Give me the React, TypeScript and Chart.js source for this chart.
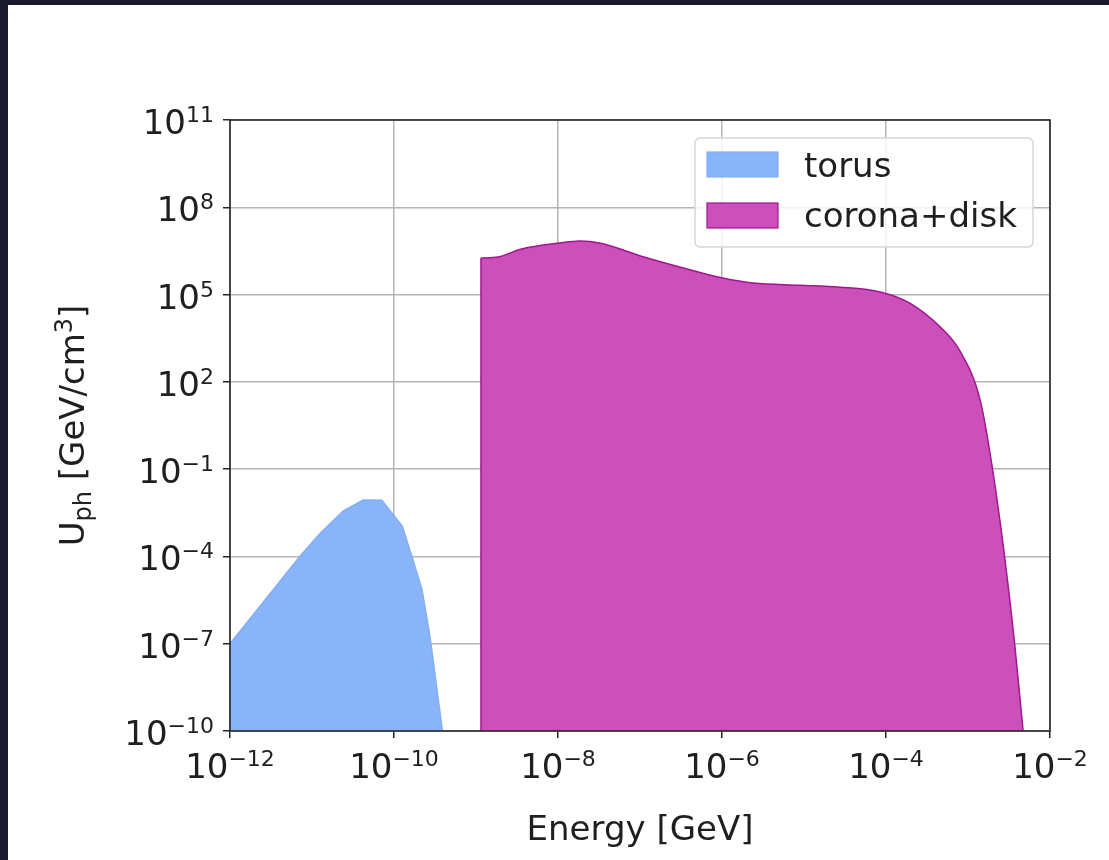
import React, { useEffect, useRef } from "react";
import { Chart, registerables } from "chart.js";

Chart.register(...registerables);

// ---- data ----
const xTickValues = [1e-12, 1e-10, 1e-8, 1e-6, 1e-4, 1e-2];
const yTickValues = [1e-10, 1e-7, 1e-4, 1e-1, 1e2, 1e5, 1e8, 1e11];

const torusEnergy = [1e-12, 2.5e-12, 7.1e-12, 1.26e-11, 2.4e-11, 4.2e-11, 7.1e-11, 1.26e-10, 1.66e-10, 2.2e-10, 2.75e-10, 3.9e-10];
const torusU = [1e-7, 2.5e-6, 1e-4, 6.3e-4, 3.6e-3, 8.7e-3, 8.5e-3, 1.1e-3, 9.5e-5, 7e-6, 1.7e-7, 1e-10];

const coronaEnergy = [
  1.15e-9, 1.86e-9, 3.5e-9, 1.05e-8, 1.86e-8, 3.2e-8, 1.23e-7, 5.4e-7, 1.02e-6,
  2.4e-6, 8.9e-6, 2.75e-5, 8.5e-5, 1.95e-4, 4.6e-4, 7.9e-4, 1.41e-3, 2.0e-3, 2.8e-3, 3.7e-3, 4.7e-3,
];
const coronaU = [
  1.8e6, 1.95e6, 3.6e6, 5.9e6, 6.9e6, 5.9e6, 1.8e6, 5.75e5, 3.7e5,
  2.5e5, 2.1e5, 1.8e5, 1.23e5, 5.1e4, 7.6e3, 1.2e3, 23, 0.093, 9.5e-5, 1.05e-7, 1e-10,
];

const seriesLabels = ["torus", "corona+disk"];
const xAxisTitle = "Energy [GeV]";

const FONT = '"DejaVu Sans", sans-serif';
const TEXT = "#1f1f1f";
const BLUE_FILL = "#8ab4f8";
const BLUE_EDGE = "#82aef5";
const MAG_FILL = "#cb50ba";
const MAG_EDGE = "#a0178f";

function drawPower(ctx: CanvasRenderingContext2D, exp: number, x: number, y: number, align: "center" | "right") {
  const base = "10";
  const e = (exp < 0 ? "\u2212" : "") + String(Math.abs(exp));
  ctx.font = `34px ${FONT}`;
  const wb = ctx.measureText(base).width;
  ctx.font = `22px ${FONT}`;
  const we = ctx.measureText(e).width;
  const total = wb + we;
  const start = align === "center" ? x - total / 2 : x - total;
  ctx.textAlign = "left";
  ctx.textBaseline = "alphabetic";
  ctx.fillStyle = TEXT;
  ctx.font = `34px ${FONT}`;
  ctx.fillText(base, start, y);
  ctx.font = `22px ${FONT}`;
  ctx.fillText(e, start + wb, y - 12);
}

const decorPlugin = {
  id: "decor",
  afterDraw(chart: any) {
    const ctx: CanvasRenderingContext2D = chart.ctx;
    const { left, right, top, bottom } = chart.chartArea;
    const xs = chart.scales.x;
    const ys = chart.scales.y;
    ctx.save();
    // left edge of the corona+disk fill
    const meta = chart.getDatasetMeta(1);
    if (meta && meta.data && meta.data.length) {
      const p0 = meta.data[0];
      ctx.strokeStyle = MAG_EDGE;
      ctx.lineWidth = 1.5;
      ctx.beginPath();
      ctx.moveTo(p0.x, bottom);
      ctx.lineTo(p0.x, p0.y);
      ctx.stroke();
    }
    // spines
    ctx.strokeStyle = "#262626";
    ctx.lineWidth = 1.6;
    ctx.strokeRect(left, top, right - left, bottom - top);

    // tick labels
    xTickValues.forEach((v) => {
      const px = xs.getPixelForValue(v);
      drawPower(ctx, Math.round(Math.log10(v)), px, 778, "center");
    });
    yTickValues.forEach((v) => {
      const py = ys.getPixelForValue(v);
      drawPower(ctx, Math.round(Math.log10(v)), 214, py + 14, "right");
    });

    // x axis title
    ctx.font = `34px ${FONT}`;
    ctx.fillStyle = TEXT;
    ctx.textAlign = "center";
    ctx.fillText(xAxisTitle, (left + right) / 2, 840);

    // y axis title: U_ph [GeV/cm^3]
    const parts: [string, number, number][] = [
      ["U", 34, 0],
      ["ph", 24, 7],
      [" [GeV/cm", 34, 0],
      ["3", 24, -12],
      ["]", 34, 0],
    ];
    let total = 0;
    parts.forEach(([t, s]) => {
      ctx.font = `${s}px ${FONT}`;
      total += ctx.measureText(t).width;
    });
    ctx.save();
    ctx.translate(84, (top + bottom) / 2);
    ctx.rotate(-Math.PI / 2);
    ctx.textAlign = "left";
    let cx = -total / 2;
    parts.forEach(([t, s, dy]) => {
      ctx.font = `${s}px ${FONT}`;
      ctx.fillText(t, cx, dy);
      cx += ctx.measureText(t).width;
    });
    ctx.restore();

    // legend
    const lx = 695, ly = 138, lw = 338, lh = 109, r = 5;
    ctx.beginPath();
    ctx.moveTo(lx + r, ly);
    ctx.arcTo(lx + lw, ly, lx + lw, ly + lh, r);
    ctx.arcTo(lx + lw, ly + lh, lx, ly + lh, r);
    ctx.arcTo(lx, ly + lh, lx, ly, r);
    ctx.arcTo(lx, ly, lx + lw, ly, r);
    ctx.closePath();
    ctx.fillStyle = "rgba(255,255,255,0.82)";
    ctx.fill();
    ctx.strokeStyle = "#d6d6d6";
    ctx.lineWidth = 1.5;
    ctx.stroke();

    const sw = [
      { y: 152, fill: BLUE_FILL, edge: BLUE_EDGE, label: chart.data.datasets[0].label, base: 177 },
      { y: 203, fill: MAG_FILL, edge: MAG_EDGE, label: chart.data.datasets[1].label, base: 227 },
    ];
    sw.forEach((s) => {
      ctx.fillStyle = s.fill;
      ctx.fillRect(707, s.y, 71, 25);
      ctx.strokeStyle = s.edge;
      ctx.lineWidth = 1.2;
      ctx.strokeRect(707, s.y, 71, 25);
      ctx.font = `34px ${FONT}`;
      ctx.fillStyle = TEXT;
      ctx.textAlign = "left";
      ctx.fillText(s.label, 804, s.base);
    });
    ctx.restore();
  },
};

export default function App() {
  const canvasRef = useRef<HTMLCanvasElement | null>(null);

  useEffect(() => {
    document.body.style.margin = "0";
    const canvas = canvasRef.current;
    if (!canvas) return;
    const chart = new Chart(canvas, {
      type: "line",
      data: {
        datasets: [
          {
            label: seriesLabels[0],
            data: torusEnergy.map((x, i) => ({ x, y: torusU[i] })),
            fill: "start",
            backgroundColor: BLUE_FILL,
            borderColor: BLUE_EDGE,
            borderWidth: 1.5,
            pointRadius: 0,
            tension: 0,
          },
          {
            label: seriesLabels[1],
            data: coronaEnergy.map((x, i) => ({ x, y: coronaU[i] })),
            fill: "start",
            backgroundColor: MAG_FILL,
            borderColor: MAG_EDGE,
            borderWidth: 1.5,
            pointRadius: 0,
            cubicInterpolationMode: "monotone",
          },
        ],
      },
      options: {
        animation: false,
        responsive: false,
        devicePixelRatio: 1,
        layout: { padding: { left: 0, top: 120, right: 59, bottom: 0 } },
        plugins: { legend: { display: false }, tooltip: { enabled: false } },
        scales: {
          x: {
            type: "logarithmic",
            position: "bottom",
            min: 1e-12,
            max: 1e-2,
            z: 1,
            afterBuildTicks: (s: any) => {
              s.ticks = xTickValues.map((v) => ({ value: v }));
            },
            afterFit: (s: any) => {
              s.height = 129;
            },
            ticks: { display: false },
            grid: {
              color: "#b5b5b5",
              lineWidth: 1.5,
              drawTicks: true,
              tickLength: 7,
              tickColor: "#262626",
              tickWidth: 1.5,
            },
            border: { display: false },
          },
          y: {
            type: "logarithmic",
            position: "left",
            min: 1e-10,
            max: 1e11,
            z: 1,
            afterBuildTicks: (s: any) => {
              s.ticks = yTickValues.map((v) => ({ value: v }));
            },
            afterFit: (s: any) => {
              s.width = 230;
            },
            ticks: { display: false },
            grid: {
              color: "#b5b5b5",
              lineWidth: 1.5,
              drawTicks: true,
              tickLength: 7,
              tickColor: "#262626",
              tickWidth: 1.5,
            },
            border: { display: false },
          },
        },
      } as any,
      plugins: [decorPlugin],
    });
    return () => chart.destroy();
  }, []);

  return (
    <div style={{ position: "relative", width: 1109, height: 860, background: "#1a1a2e", overflow: "hidden" }}>
      <div style={{ position: "absolute", left: 8, top: 5, right: 0, bottom: 0, background: "#ffffff" }} />
      <canvas
        ref={canvasRef}
        width={1109}
        height={860}
        style={{ position: "absolute", left: 0, top: 0, width: 1109, height: 860 }}
      />
    </div>
  );
}
